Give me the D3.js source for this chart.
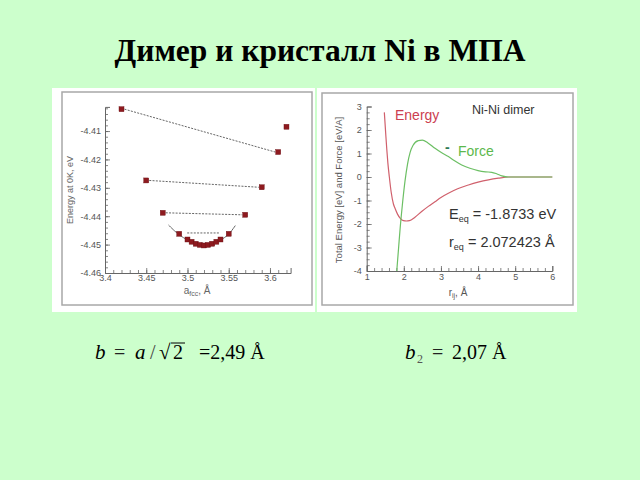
<!DOCTYPE html>
<html>
<head>
<meta charset="utf-8">
<script src="https://cdn.jsdelivr.net/npm/d3@7"></script>
<style>
  html, body { margin: 0; padding: 0; background: #ccffcc; }
  svg { display: block; }
</style>
</head>
<body>
<svg id="chart" width="640" height="480"></svg>
<script>
// ---------- Left chart: fcc Ni crystal energy vs lattice constant ----------
const latticeA = [3.42, 3.45, 3.47, 3.49, 3.50, 3.505, 3.51, 3.515, 3.52, 3.525, 3.53, 3.535, 3.54, 3.55, 3.57, 3.59, 3.61, 3.62];
const crystalE = [-4.4023, -4.4274, -4.4388, -4.4462, -4.4482, -4.4490, -4.4497, -4.4501, -4.4503, -4.4501, -4.4497, -4.4490, -4.4482, -4.4462, -4.4395, -4.4298, -4.4174, -4.4085];
// dashed connecting segments [a1, E1, a2, E2]
const dashSegA1 = [3.42, 3.45, 3.47, 3.496];
const dashSegE1 = [-4.4023, -4.4274, -4.4388, -4.4459];
const dashSegA2 = [3.61, 3.59, 3.57, 3.542];
const dashSegE2 = [-4.4174, -4.4298, -4.4395, -4.4459];
// fitted parabola
const fitA = [3.477, 3.485, 3.49, 3.50, 3.51, 3.52, 3.53, 3.54, 3.55, 3.558];
const fitE = [-4.4431, -4.4454, -4.4466, -4.4485, -4.4496, -4.4500, -4.4496, -4.4485, -4.4466, -4.4433];
const leftXTicks = [3.4, 3.45, 3.5, 3.55, 3.6];
const leftYTicks = [-4.41, -4.42, -4.43, -4.44, -4.45, -4.46];

// ---------- Right chart: Ni-Ni dimer ----------
const rEnergy = [1.475, 1.51, 1.54, 1.57, 1.61, 1.66, 1.72, 1.76, 1.83, 1.9, 1.99, 2.07, 2.15, 2.3, 2.48, 2.66, 2.84, 3.0, 3.2, 3.45, 3.74, 4.0, 4.28, 4.55, 4.82, 5.2, 6.0];
const eTotal  = [2.75, 1.9, 1.2, 0.6, 0.0, -0.65, -1.15, -1.32, -1.58, -1.75, -1.86, -1.873, -1.86, -1.71, -1.47, -1.25, -1.05, -0.87, -0.69, -0.5, -0.34, -0.22, -0.12, -0.05, 0, 0, 0];
const rForce = [1.81, 1.86, 1.9, 1.96, 2.03, 2.1, 2.17, 2.25, 2.39, 2.5, 2.65, 2.84, 3.0, 3.2, 3.38, 3.56, 3.78, 4.0, 4.2, 4.37, 4.5, 4.64, 4.82, 5.2, 6.0];
const fForce = [-4, -3.0, -2.2, -1.2, -0.2, 0.55, 1.05, 1.35, 1.55, 1.57, 1.45, 1.22, 1.05, 0.87, 0.68, 0.51, 0.37, 0.27, 0.22, 0.2, 0.14, 0.05, 0, 0, 0];
const rightXTicks = [1, 2, 3, 4, 5, 6];
const rightYTicks = [3, 2, 1, 0, -1, -2, -3, -4];

const svg = d3.select("#chart");
const sans = "'Liberation Sans', Arial, sans-serif";
const serif = "'Liberation Serif', 'Times New Roman', serif";
const hyphenFmt = d => String(d);

// background
svg.append("rect").attr("width", 640).attr("height", 480).attr("fill", "#ccffcc");

// title
svg.append("text").attr("x", 320).attr("y", 61).attr("text-anchor", "middle")
  .attr("font-family", serif).attr("font-weight", "bold").attr("font-size", 31.5)
  .attr("fill", "#000").text("Димер и кристалл Ni в МПА");

// panels
function panel(x, y, w, h, bx, by, bw, bh) {
  svg.append("rect").attr("x", x).attr("y", y).attr("width", w).attr("height", h).attr("fill", "#fff");
  svg.append("rect").attr("x", bx).attr("y", by).attr("width", bw).attr("height", bh)
    .attr("fill", "none").attr("stroke", "#a8a8a8").attr("stroke-width", 1.5);
}
panel(52, 88, 263, 224, 62, 92, 250, 213);
panel(317, 88, 260, 224, 322, 93, 251, 212);

function styleAxis(g, size) {
  g.select(".domain").attr("stroke", "#666").attr("stroke-width", 1);
  g.selectAll(".tick line").attr("stroke", "#666").attr("stroke-width", 0.8);
  g.selectAll("text").attr("font-family", sans).attr("font-size", size).attr("fill", "#555");
}

// ---------- LEFT ----------
const xL = d3.scaleLinear().domain([3.4, 3.625]).range([105, 290.6]);
const yL = d3.scaleLinear().domain([-4.46, -4.4015]).range([273, 106.9]);

const gLx = svg.append("g").attr("transform", `translate(0,${yL(-4.46)})`)
  .call(d3.axisBottom(xL).tickValues(leftXTicks).tickSize(-5).tickPadding(2).tickFormat(hyphenFmt));
styleAxis(gLx, 9);
const gLxm = svg.append("g").attr("transform", `translate(0,${yL(-4.46)})`)
  .call(d3.axisBottom(xL).tickValues(d3.range(3.41, 3.625, 0.01)).tickSize(-3).tickFormat(""));
gLxm.select(".domain").remove();
gLxm.selectAll("line").attr("stroke", "#666").attr("stroke-width", 0.8);

const gLy = svg.append("g").attr("transform", `translate(${xL(3.4)},0)`)
  .call(d3.axisLeft(yL).tickValues(leftYTicks).tickSize(-5).tickPadding(4).tickFormat(hyphenFmt));
styleAxis(gLy, 9);
const gLym = svg.append("g").attr("transform", `translate(${xL(3.4)},0)`)
  .call(d3.axisLeft(yL).tickValues(d3.range(-4.458, -4.401, 0.002)).tickSize(-3).tickFormat(""));
gLym.select(".domain").remove();
gLym.selectAll("line").attr("stroke", "#666").attr("stroke-width", 0.8);

svg.append("text").attr("transform", "translate(73,190) rotate(-90)").attr("text-anchor", "middle")
  .attr("font-family", sans).attr("font-size", 9).attr("fill", "#666").text("Energy at 0K, eV");
const xlab = svg.append("text").attr("x", 197).attr("y", 294).attr("text-anchor", "middle")
  .attr("font-family", sans).attr("font-size", 10).attr("fill", "#666");
xlab.append("tspan").text("a");
xlab.append("tspan").attr("font-size", 7).attr("dy", 2).text("fcc");
xlab.append("tspan").attr("dy", -2).text(", Å");

// fit curve
const fitLine = d3.line().x(d => xL(d[0])).y(d => yL(d[1])).curve(d3.curveBasis);
svg.append("path").datum(fitA.map((a, i) => [a, fitE[i]])).attr("d", fitLine)
  .attr("fill", "none").attr("stroke", "#666").attr("stroke-width", 1);

// dashed segments
svg.selectAll(".dseg").data(dashSegA1.map((a, i) => i)).enter().append("line")
  .attr("x1", i => xL(dashSegA1[i]) + 3).attr("y1", i => yL(dashSegE1[i]))
  .attr("x2", i => xL(dashSegA2[i]) - 3).attr("y2", i => yL(dashSegE2[i]))
  .attr("stroke", "#555").attr("stroke-width", 0.9).attr("stroke-dasharray", "2,1.3");

// points
svg.selectAll(".pt").data(latticeA.map((a, i) => [a, crystalE[i]])).enter().append("rect")
  .attr("x", d => xL(d[0]) - 2.5).attr("y", d => yL(d[1]) - 2.5)
  .attr("width", 5).attr("height", 5).attr("fill", "#8e1a1f").attr("stroke", "#6a1014").attr("stroke-width", 0.4);

// ---------- RIGHT ----------
const xR = d3.scaleLinear().domain([1, 6]).range([366.7, 552.3]);
const yR = d3.scaleLinear().domain([-4, 3]).range([271, 106.5]);

const gRx = svg.append("g").attr("transform", `translate(0,${yR(-4)})`)
  .call(d3.axisBottom(xR).tickValues(rightXTicks).tickSize(-5).tickPadding(3).tickFormat(hyphenFmt));
styleAxis(gRx, 9);
const gRxm = svg.append("g").attr("transform", `translate(0,${yR(-4)})`)
  .call(d3.axisBottom(xR).tickValues(d3.range(1.2, 6, 0.2)).tickSize(-3).tickFormat(""));
gRxm.select(".domain").remove();
gRxm.selectAll("line").attr("stroke", "#666").attr("stroke-width", 0.8);

const gRy = svg.append("g").attr("transform", `translate(${xR(1)},0)`)
  .call(d3.axisLeft(yR).tickValues(rightYTicks).tickSize(-5).tickPadding(5).tickFormat(hyphenFmt));
styleAxis(gRy, 9);
const gRym = svg.append("g").attr("transform", `translate(${xR(1)},0)`)
  .call(d3.axisLeft(yR).tickValues(d3.range(-3.75, 3, 0.25)).tickSize(-3).tickFormat(""));
gRym.select(".domain").remove();
gRym.selectAll("line").attr("stroke", "#666").attr("stroke-width", 0.8);

svg.append("text").attr("transform", "translate(342,190) rotate(-90)").attr("text-anchor", "middle")
  .attr("font-family", sans).attr("font-size", 9.5).attr("fill", "#555").text("Total Energy [eV] and Force [eV/A]");
const rlab = svg.append("text").attr("x", 458).attr("y", 296).attr("text-anchor", "middle")
  .attr("font-family", sans).attr("font-size", 10).attr("fill", "#555");
rlab.append("tspan").text("r");
rlab.append("tspan").attr("font-size", 7).attr("dy", 2).text("ij");
rlab.append("tspan").attr("dy", -2).text(", Å");

const lineR = d3.line().x(d => xR(d[0])).y(d => yR(d[1])).curve(d3.curveMonotoneX);
svg.append("path").datum(rEnergy.map((r, i) => [r, eTotal[i]])).attr("d", lineR)
  .attr("fill", "none").attr("stroke", "#d0606c").attr("stroke-width", 1.2);
svg.append("path").datum(rForce.map((r, i) => [r, fForce[i]])).attr("d", lineR)
  .attr("fill", "none").attr("stroke", "#6cbf64").attr("stroke-width", 1.2);

svg.append("text").attr("x", 395).attr("y", 120).attr("font-family", sans).attr("font-size", 14)
  .attr("fill", "#cc4050").text("Energy");
svg.append("text").attr("x", 472).attr("y", 114).attr("font-family", sans).attr("font-size", 12.5)
  .attr("fill", "#333").text("Ni-Ni dimer");
svg.append("text").attr("x", 445).attr("y", 152).attr("font-family", sans).attr("font-size", 14)
  .attr("font-weight", "bold").attr("fill", "#2d7a55").text("-");
svg.append("text").attr("x", 458).attr("y", 156).attr("font-family", sans).attr("font-size", 14)
  .attr("fill", "#5cb84c").text("Force");

const eq1 = svg.append("text").attr("x", 449).attr("y", 219).attr("font-family", sans).attr("font-size", 14.5).attr("fill", "#333");
eq1.append("tspan").text("E");
eq1.append("tspan").attr("font-size", 9).attr("dy", 3).text("eq");
eq1.append("tspan").attr("dy", -3).text(" = -1.8733 eV");
const eq2 = svg.append("text").attr("x", 449).attr("y", 247).attr("font-family", sans).attr("font-size", 14.5).attr("fill", "#333");
eq2.append("tspan").text("r");
eq2.append("tspan").attr("font-size", 9).attr("dy", 3).text("eq");
eq2.append("tspan").attr("dy", -3).text(" = 2.072423 Å");

// ---------- formulas ----------
const fy = 359;
function ft(x, str, italic, size, color) {
  return svg.append("text").attr("x", x).attr("y", fy).attr("font-family", serif)
    .attr("font-size", size || 20).attr("font-style", italic ? "italic" : "normal")
    .attr("fill", color || "#000").text(str);
}
ft(95, "b", true, 21);
ft(114, "=", false, 20, "#222");
ft(135, "a", true, 21);
ft(150, "/", false, 20, "#444");
ft(159, "√", false, 21);
svg.append("line").attr("x1", 171).attr("x2", 185).attr("y1", fy - 16).attr("y2", fy - 16).attr("stroke", "#000").attr("stroke-width", 1);
ft(173, "2", false, 20);
ft(199, "=2,49 Å", false, 20);

ft(405, "b", true, 21);
svg.append("text").attr("x", 417).attr("y", fy + 4).attr("font-family", serif).attr("font-size", 12).attr("fill", "#555").text("2");
ft(432, "=", false, 20, "#222");
ft(452, "2,07 Å", false, 20);
</script>
</body>
</html>
